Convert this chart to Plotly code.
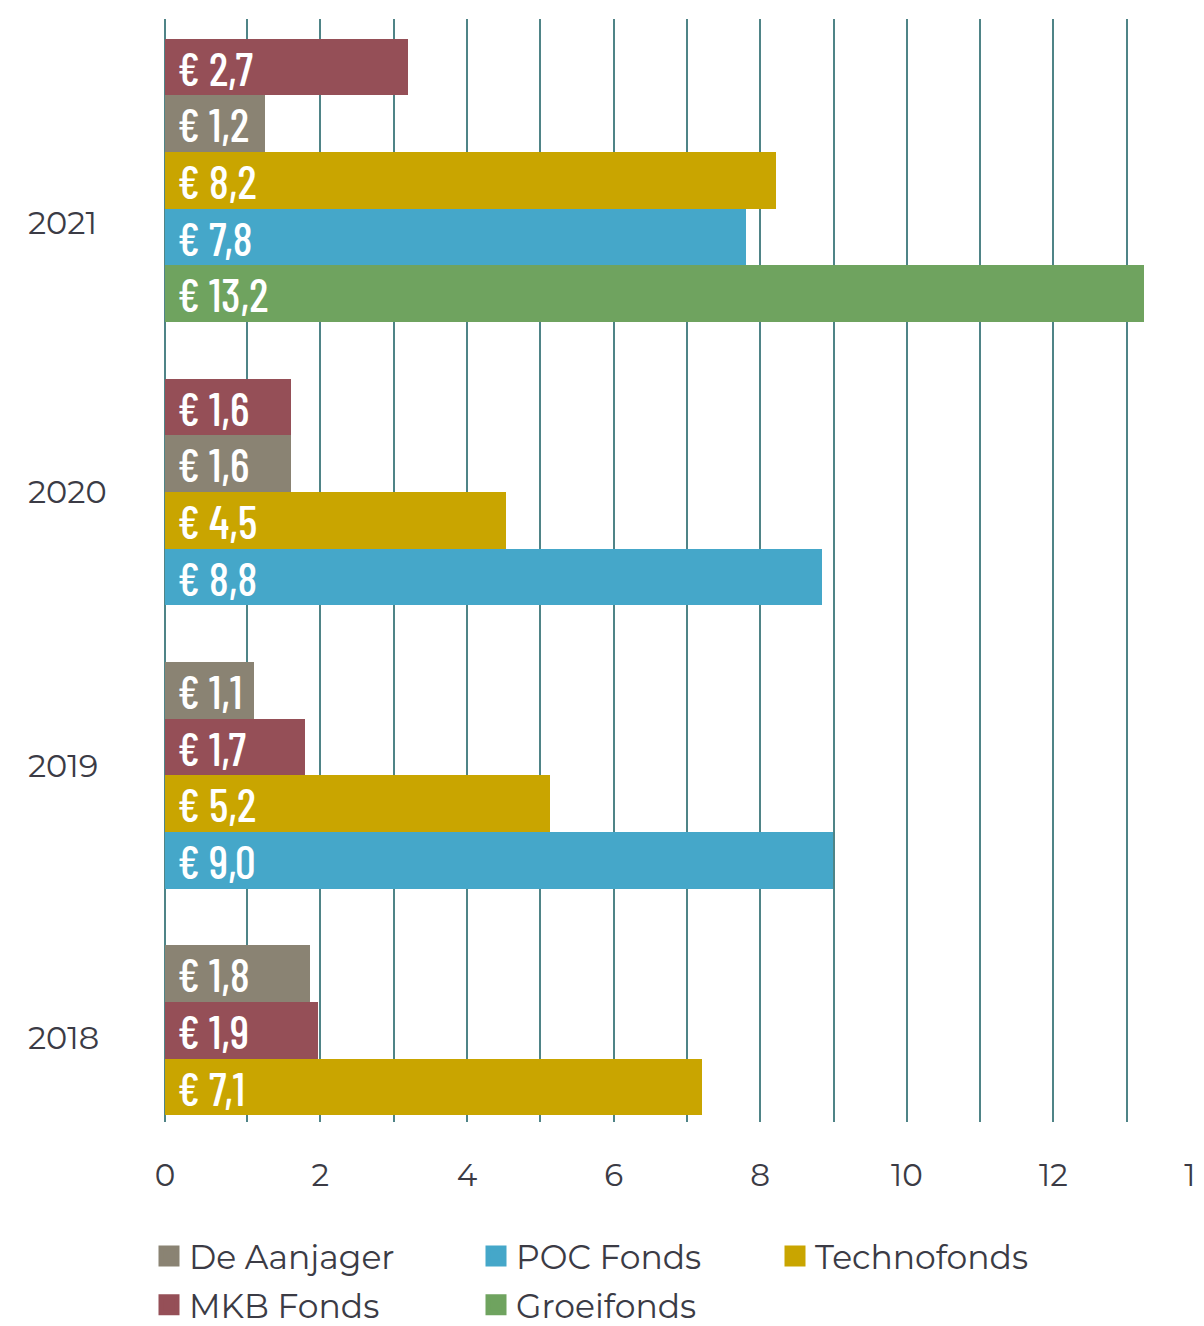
import plotly.graph_objects as go

# ---------------- data ----------------
years = ["2021", "2020", "2019", "2018"]
funds = ["De Aanjager", "MKB Fonds", "POC Fonds", "Groeifonds", "Technofonds"]

# rows of each year, top to bottom; bar ends as drawn, printed labels
rows_2021 = ["MKB Fonds", "De Aanjager", "Technofonds", "POC Fonds", "Groeifonds"]
bars_2021 = [3.20, 1.25, 8.22, 7.81, 13.24]
text_2021 = ["2,7", "1,2", "8,2", "7,8", "13,2"]

rows_2020 = ["MKB Fonds", "De Aanjager", "Technofonds", "POC Fonds"]
bars_2020 = [1.60, 1.60, 4.53, 8.84]
text_2020 = ["1,6", "1,6", "4,5", "8,8"]

rows_2019 = ["De Aanjager", "MKB Fonds", "Technofonds", "POC Fonds"]
bars_2019 = [1.09, 1.79, 5.13, 8.99]
text_2019 = ["1,1", "1,7", "5,2", "9,0"]

rows_2018 = ["De Aanjager", "MKB Fonds", "Technofonds"]
bars_2018 = [1.86, 1.97, 7.21]
text_2018 = ["1,8", "1,9", "7,1"]

x_ticks = [0, 2, 4, 6, 8, 10, 12, 14]

# ---------------- styles ----------------
colors = {
    "MKB Fonds": "#954f57",
    "De Aanjager": "#8a8373",
    "Technofonds": "#c9a500",
    "POC Fonds": "#45a7c9",
    "Groeifonds": "#6fa35f",
}
legend_of = {
    "De Aanjager": "legend", "MKB Fonds": "legend",
    "POC Fonds": "legend2", "Groeifonds": "legend2",
    "Technofonds": "legend3",
}
GRID = "#4f8487"
TEXT = "#3b3b45"
FONT = "Montserrat, Open Sans, sans-serif"
LABEL_FONT = "Barlow Condensed, Roboto Condensed, sans-serif"

# the category axis crosses slightly left of value 0 (as in the original)
AXIS_START = -0.12
X_END = 14

W, H = 1204, 1326
OFF = 8                        # page body margin around the figure
AX_L, AX_R = 165, 1200         # screen x of AXIS_START and of X_END
PAD = 3                        # keep the edge gridlines just inside the plot area
PLOT_L, PLOT_R = AX_L - PAD, AX_R + PAD
PLOT_T, PLOT_B = 19, 1122
SCALE = (AX_R - AX_L) / (X_END - AXIS_START)
X_RANGE = [AXIS_START - PAD / SCALE, X_END + PAD / SCALE]

L = PLOT_L - OFF
T = PLOT_T - OFF
R = W - (PLOT_R - OFF)
B = H - (PLOT_B - OFF)


def px2x(px):
    return (px - PLOT_L) / (PLOT_R - PLOT_L)


def px2y(py):
    return (PLOT_B - py) / (PLOT_B - PLOT_T)


groups = [
    (years[0], rows_2021, bars_2021, text_2021),
    (years[1], rows_2020, bars_2020, text_2020),
    (years[2], rows_2019, bars_2019, text_2019),
    (years[3], rows_2018, bars_2018, text_2018),
]

cat_order = []
per_fund = {f: {"y": [], "x": [], "t": []} for f in funds}
for gi, (yr, rows, vals, txt) in enumerate(groups):
    if gi > 0:
        cat_order.append(" " * gi)  # empty spacer row between years
    for f, v, t in zip(rows, vals, txt):
        c = f"{yr} {f}"
        cat_order.append(c)
        per_fund[f]["y"].append(c)
        per_fund[f]["x"].append(v)
        per_fund[f]["t"].append("\u00a0€ " + t)

fig = go.Figure()
for f in funds:
    d = per_fund[f]
    fig.add_trace(go.Bar(
        orientation="h",
        x=[v - AXIS_START for v in d["x"]], base=AXIS_START,  # bar runs from axis line to value
        y=d["y"], name=f,
        marker=dict(color=colors[f], line=dict(width=0)),
        text=d["t"], textposition="inside", insidetextanchor="start",
        textangle=0, constraintext="none", cliponaxis=False,
        textfont=dict(family=LABEL_FONT, size=46, color="white", weight=500),
        showlegend=False, hoverinfo="y+text",
    ))

for f in funds:
    fig.add_trace(go.Scatter(
        x=[None], y=[None], mode="markers", name=f, legend=legend_of[f],
        legendgroup=f,
        marker=dict(symbol="square", size=16, color=colors[f],
                    line=dict(width=5, color=colors[f])),
    ))

tick_pos = [AXIS_START if v == 0 else v for v in x_ticks]
fig.update_layout(
    width=W, height=H,
    margin=dict(l=L, r=R, t=T, b=B, pad=0, autoexpand=False),
    paper_bgcolor="white", plot_bgcolor="white",
    barmode="overlay", bargap=0,
    font=dict(family=FONT, color=TEXT),
    xaxis=dict(
        range=X_RANGE, tickmode="array",
        tickvals=tick_pos, ticktext=[str(v) for v in x_ticks],
        showgrid=True, gridcolor=GRID, gridwidth=2,
        minor=dict(tick0=1, dtick=2, showgrid=True, gridcolor=GRID, gridwidth=2),
        zeroline=False, showline=False, ticks="", ticklabelstandoff=32,
        ticklabeloverflow="allow",
        tickfont=dict(family=FONT, size=31, color=TEXT),
        fixedrange=True,
    ),
    yaxis=dict(
        type="category", categoryorder="array", categoryarray=cat_order,
        range=[18.62, -0.846], showticklabels=False, showgrid=False,
        zeroline=False, showline=False, ticks="", fixedrange=True,
    ),
    showlegend=True,
)

legend_font = dict(family=FONT, size=33, color=TEXT)
legend_common = dict(orientation="v", xanchor="left", yanchor="top",
                     font=legend_font, bgcolor="rgba(0,0,0,0)",
                     tracegroupgap=3, borderwidth=0)
fig.update_layout(
    legend=dict(x=px2x(149), y=px2y(1228), **legend_common),
    legend2=dict(x=px2x(476), y=px2y(1228), **legend_common),
    legend3=dict(x=px2x(775), y=px2y(1228), **legend_common),
)

year_label_px = [222, 492, 765, 1037]
for yr, py in zip(years, year_label_px):
    fig.add_annotation(
        text=yr, xref="paper", yref="paper", x=px2x(26), y=px2y(py),
        xanchor="left", yanchor="middle", showarrow=False,
        font=dict(family=FONT, size=32, color=TEXT),
    )

fig.write_html("out.html")
